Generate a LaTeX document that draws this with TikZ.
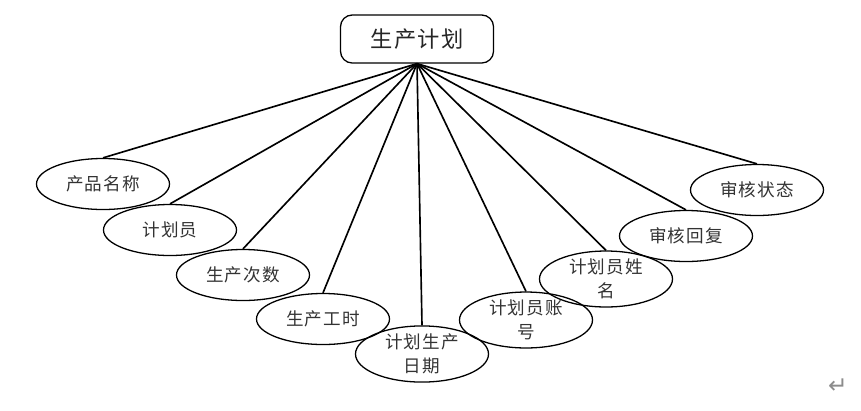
\documentclass[tikz,border=0pt]{standalone}
\usepackage{fontspec}
\setmainfont{Noto Sans CJK SC}[LetterSpace=6]
\newfontfamily\symfont{DejaVu Sans}
\usetikzlibrary{shapes.geometric}
\begin{document}
\begin{tikzpicture}[x=0.03cm,y=-0.03cm,
  attr/.style={draw,ellipse,line width=1.1pt,minimum width=3.99cm,minimum height=1.53cm,inner sep=0pt,align=center,text=black!80,font=\fontsize{15}{20}\selectfont},
  entity/.style={draw,rounded corners=10pt,line width=1.1pt,minimum width=4.59cm,minimum height=1.44cm,text=black!85,font=\fontsize{19}{22}\selectfont}]
\useasboundingbox (0,0) rectangle (861,410);

\node[entity] (top) at (417,39) {生产计划};

\node[attr] (e1) at (103,184) {产品名称};
\node[attr] (e2) at (170,230) {计划员};
\node[attr] (e3) at (243,275) {生产次数};
\node[attr] (e4) at (323,319) {生产工时};
\node[attr] (e5) at (422,354) {计划生产\\日期};
\node[attr] (e6) at (526,320) {计划员账\\号};
\node[attr] (e7) at (606,279) {计划员姓\\名};
\node[attr] (e8) at (686,236) {审核回复};
\node[attr] (e9) at (757,190) {审核状态};

\foreach \i in {1,...,9}
  \draw[line width=1.4pt] (top.south) -- (e\i.north);

\node[text=black!45,font=\symfont\fontsize{20}{20}\selectfont] (ret) at (838,386) {↵};
\end{tikzpicture}
\end{document}
